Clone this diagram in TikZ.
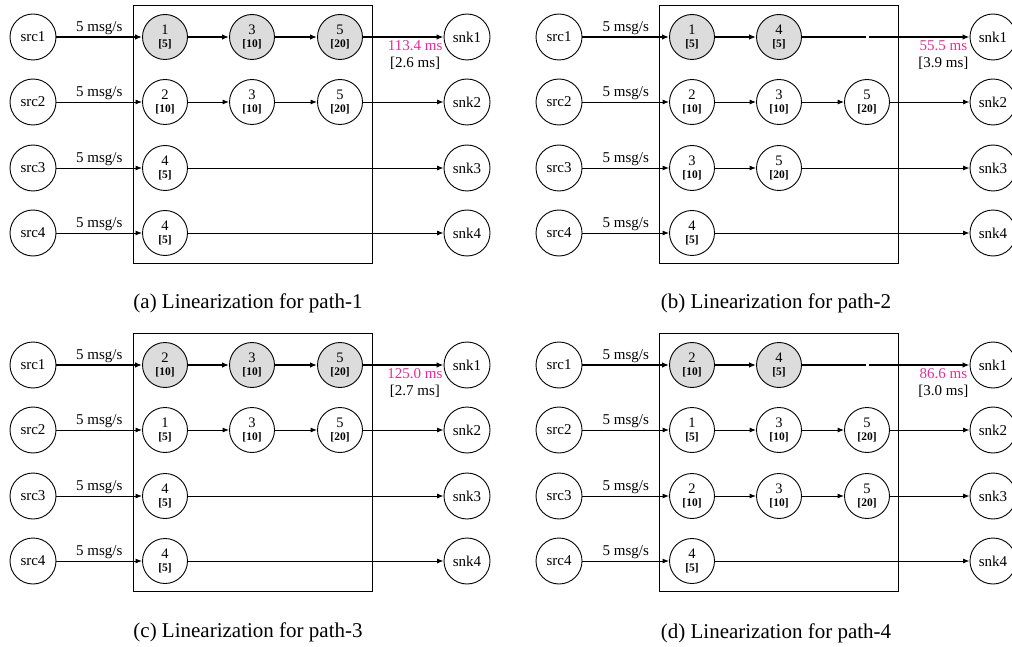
\documentclass[tikz,border=0pt]{standalone}
\usepackage{fontspec}
\setmainfont{Liberation Serif}
\usetikzlibrary{arrows.meta}
\definecolor{latency}{RGB}{226,46,156}
\definecolor{hotfill}{RGB}{220,220,220}
% operator label: instance number over its bold cost
\newcommand{\opl}[2]{#1\\{\fontsize{11.5}{12}\selectfont\bfseries[#2]}}
% sources, sinks and the operator frame shared by every panel
\newcommand{\lanes}[1]{%
  \foreach \r/\y in {1/37,2/102,3/168,4/233}{%
    \node[endpt] (#1src\r) at (33,\y) {src\r};
    \node[endpt] (#1snk\r) at (467,\y) {snk\r};
  }
  \draw[frame] (133,5) rectangle (372,263);
}
\begin{document}
\begin{tikzpicture}[x=1pt,y=-1pt,
  endpt/.style={circle,draw,line width=0.9pt,minimum size=46pt,inner sep=0pt,
    font=\fontsize{15}{17}\selectfont},
  opnode/.style={circle,draw,line width=0.9pt,minimum size=45pt,inner sep=0pt,
    align=center,font=\fontsize{14.5}{13.5}\selectfont},
  hot/.style={fill=hotfill},
  flow/.style={line width=0.9pt,-{Latex[length=6.5pt,width=5pt]}},
  hotflow/.style={line width=1.5pt,-{Latex[length=7pt,width=5.5pt]}},
  hotline/.style={line width=1.5pt},
  rate/.style={above,inner sep=2pt,font=\fontsize{15}{17}\selectfont},
  lat/.style={anchor=north east,align=center,inner sep=0pt,yshift=-3pt,
    font=\fontsize{15}{17}\selectfont},
  frame/.style={line width=0.9pt},
  caption/.style={font=\fontsize{21}{24}\selectfont}
]
\useasboundingbox (0,0) rectangle (1012,647);
\clip (0,0) rectangle (1012,647);

% ---------- (a) path-1 ----------
\begin{scope}
  \lanes{a}
  \node[opnode,hot] (a11) at (165,37) {\opl{1}{5}};
  \node[opnode,hot] (a12) at (252,37) {\opl{3}{10}};
  \node[opnode,hot] (a13) at (340,37) {\opl{5}{20}};
  \node[opnode] (a21) at (165,102) {\opl{2}{10}};
  \node[opnode] (a22) at (252,102) {\opl{3}{10}};
  \node[opnode] (a23) at (340,102) {\opl{5}{20}};
  \node[opnode] (a31) at (165,168) {\opl{4}{5}};
  \node[opnode] (a41) at (165,233) {\opl{4}{5}};
  \draw[hotflow] (asrc1) -- node[rate]{5 msg/s} (a11);
  \draw[hotflow] (a11) -- (a12);
  \draw[hotflow] (a12) -- (a13);
  \draw[hotflow] (a13) -- (asnk1);
  \node[lat] (alat) at ([xshift=-1pt]asnk1.west) {\textcolor{latency}{113.4 ms}\\{[2.6 ms]}};
  \draw[flow] (asrc2) -- node[rate]{5 msg/s} (a21);
  \draw[flow] (a21) -- (a22);
  \draw[flow] (a22) -- (a23);
  \draw[flow] (a23) -- (asnk2);
  \draw[flow] (asrc3) -- node[rate]{5 msg/s} (a31);
  \draw[flow] (a31) -- (asnk3);
  \draw[flow] (asrc4) -- node[rate]{5 msg/s} (a41);
  \draw[flow] (a41) -- (asnk4);
\end{scope}

% ---------- (b) path-2 ----------
\begin{scope}[shift={(526,0)}]
  \lanes{b}
  \node[opnode,hot] (b11) at (166,37) {\opl{1}{5}};
  \node[opnode,hot] (b12) at (253,37) {\opl{4}{5}};
  \coordinate (bgapL) at (340,37);
  \coordinate (bgapR) at (342.5,37);
  \node[opnode] (b21) at (166,102) {\opl{2}{10}};
  \node[opnode] (b22) at (253,102) {\opl{3}{10}};
  \node[opnode] (b23) at (341,102) {\opl{5}{20}};
  \node[opnode] (b31) at (166,168) {\opl{3}{10}};
  \node[opnode] (b32) at (253,168) {\opl{5}{20}};
  \node[opnode] (b41) at (166,233) {\opl{4}{5}};
  \draw[hotflow] (bsrc1) -- node[rate]{5 msg/s} (b11);
  \draw[hotflow] (b11) -- (b12);
  \draw[hotline] (b12) -- (bgapL);
  \draw[hotflow] (bgapR) -- (bsnk1);
  \node[lat] (blat) at ([xshift=-1pt]bsnk1.west) {\textcolor{latency}{55.5 ms}\\{[3.9 ms]}};
  \draw[flow] (bsrc2) -- node[rate]{5 msg/s} (b21);
  \draw[flow] (b21) -- (b22);
  \draw[flow] (b22) -- (b23);
  \draw[flow] (b23) -- (bsnk2);
  \draw[flow] (bsrc3) -- node[rate]{5 msg/s} (b31);
  \draw[flow] (b31) -- (b32);
  \draw[flow] (b32) -- (bsnk3);
  \draw[flow] (bsrc4) -- node[rate]{5 msg/s} (b41);
  \draw[flow] (b41) -- (bsnk4);
\end{scope}

% ---------- (c) path-3 ----------
\begin{scope}[shift={(0,328)}]
  \lanes{c}
  \node[opnode,hot] (c11) at (165,37) {\opl{2}{10}};
  \node[opnode,hot] (c12) at (252,37) {\opl{3}{10}};
  \node[opnode,hot] (c13) at (340,37) {\opl{5}{20}};
  \node[opnode] (c21) at (165,102) {\opl{1}{5}};
  \node[opnode] (c22) at (252,102) {\opl{3}{10}};
  \node[opnode] (c23) at (340,102) {\opl{5}{20}};
  \node[opnode] (c31) at (165,168) {\opl{4}{5}};
  \node[opnode] (c41) at (165,233) {\opl{4}{5}};
  \draw[hotflow] (csrc1) -- node[rate]{5 msg/s} (c11);
  \draw[hotflow] (c11) -- (c12);
  \draw[hotflow] (c12) -- (c13);
  \draw[hotflow] (c13) -- (csnk1);
  \node[lat] (clat) at ([xshift=-1pt]csnk1.west) {\textcolor{latency}{125.0 ms}\\{[2.7 ms]}};
  \draw[flow] (csrc2) -- node[rate]{5 msg/s} (c21);
  \draw[flow] (c21) -- (c22);
  \draw[flow] (c22) -- (c23);
  \draw[flow] (c23) -- (csnk2);
  \draw[flow] (csrc3) -- node[rate]{5 msg/s} (c31);
  \draw[flow] (c31) -- (csnk3);
  \draw[flow] (csrc4) -- node[rate]{5 msg/s} (c41);
  \draw[flow] (c41) -- (csnk4);
\end{scope}

% ---------- (d) path-4 ----------
\begin{scope}[shift={(526,328)}]
  \lanes{d}
  \node[opnode,hot] (d11) at (166,37) {\opl{2}{10}};
  \node[opnode,hot] (d12) at (253,37) {\opl{4}{5}};
  \coordinate (dgapL) at (340,37);
  \coordinate (dgapR) at (342.5,37);
  \node[opnode] (d21) at (166,102) {\opl{1}{5}};
  \node[opnode] (d22) at (253,102) {\opl{3}{10}};
  \node[opnode] (d23) at (341,102) {\opl{5}{20}};
  \node[opnode] (d31) at (166,168) {\opl{2}{10}};
  \node[opnode] (d32) at (253,168) {\opl{3}{10}};
  \node[opnode] (d33) at (341,168) {\opl{5}{20}};
  \node[opnode] (d41) at (166,233) {\opl{4}{5}};
  \draw[hotflow] (dsrc1) -- node[rate]{5 msg/s} (d11);
  \draw[hotflow] (d11) -- (d12);
  \draw[hotline] (d12) -- (dgapL);
  \draw[hotflow] (dgapR) -- (dsnk1);
  \node[lat] (dlat) at ([xshift=-1pt]dsnk1.west) {\textcolor{latency}{86.6 ms}\\{[3.0 ms]}};
  \draw[flow] (dsrc2) -- node[rate]{5 msg/s} (d21);
  \draw[flow] (d21) -- (d22);
  \draw[flow] (d22) -- (d23);
  \draw[flow] (d23) -- (dsnk2);
  \draw[flow] (dsrc3) -- node[rate]{5 msg/s} (d31);
  \draw[flow] (d31) -- (d32);
  \draw[flow] (d32) -- (d33);
  \draw[flow] (d33) -- (dsnk3);
  \draw[flow] (dsrc4) -- node[rate]{5 msg/s} (d41);
  \draw[flow] (d41) -- (dsnk4);
\end{scope}

% ---------- captions ----------
\node[caption] (capa) at (248,303) {(a) Linearization for path-1};
\node[caption] (capb) at (776,303) {(b) Linearization for path-2};
\node[caption] (capc) at (248,632) {(c) Linearization for path-3};
\node[caption] (capd) at (776,633) {(d) Linearization for path-4};
\end{tikzpicture}
\end{document}
